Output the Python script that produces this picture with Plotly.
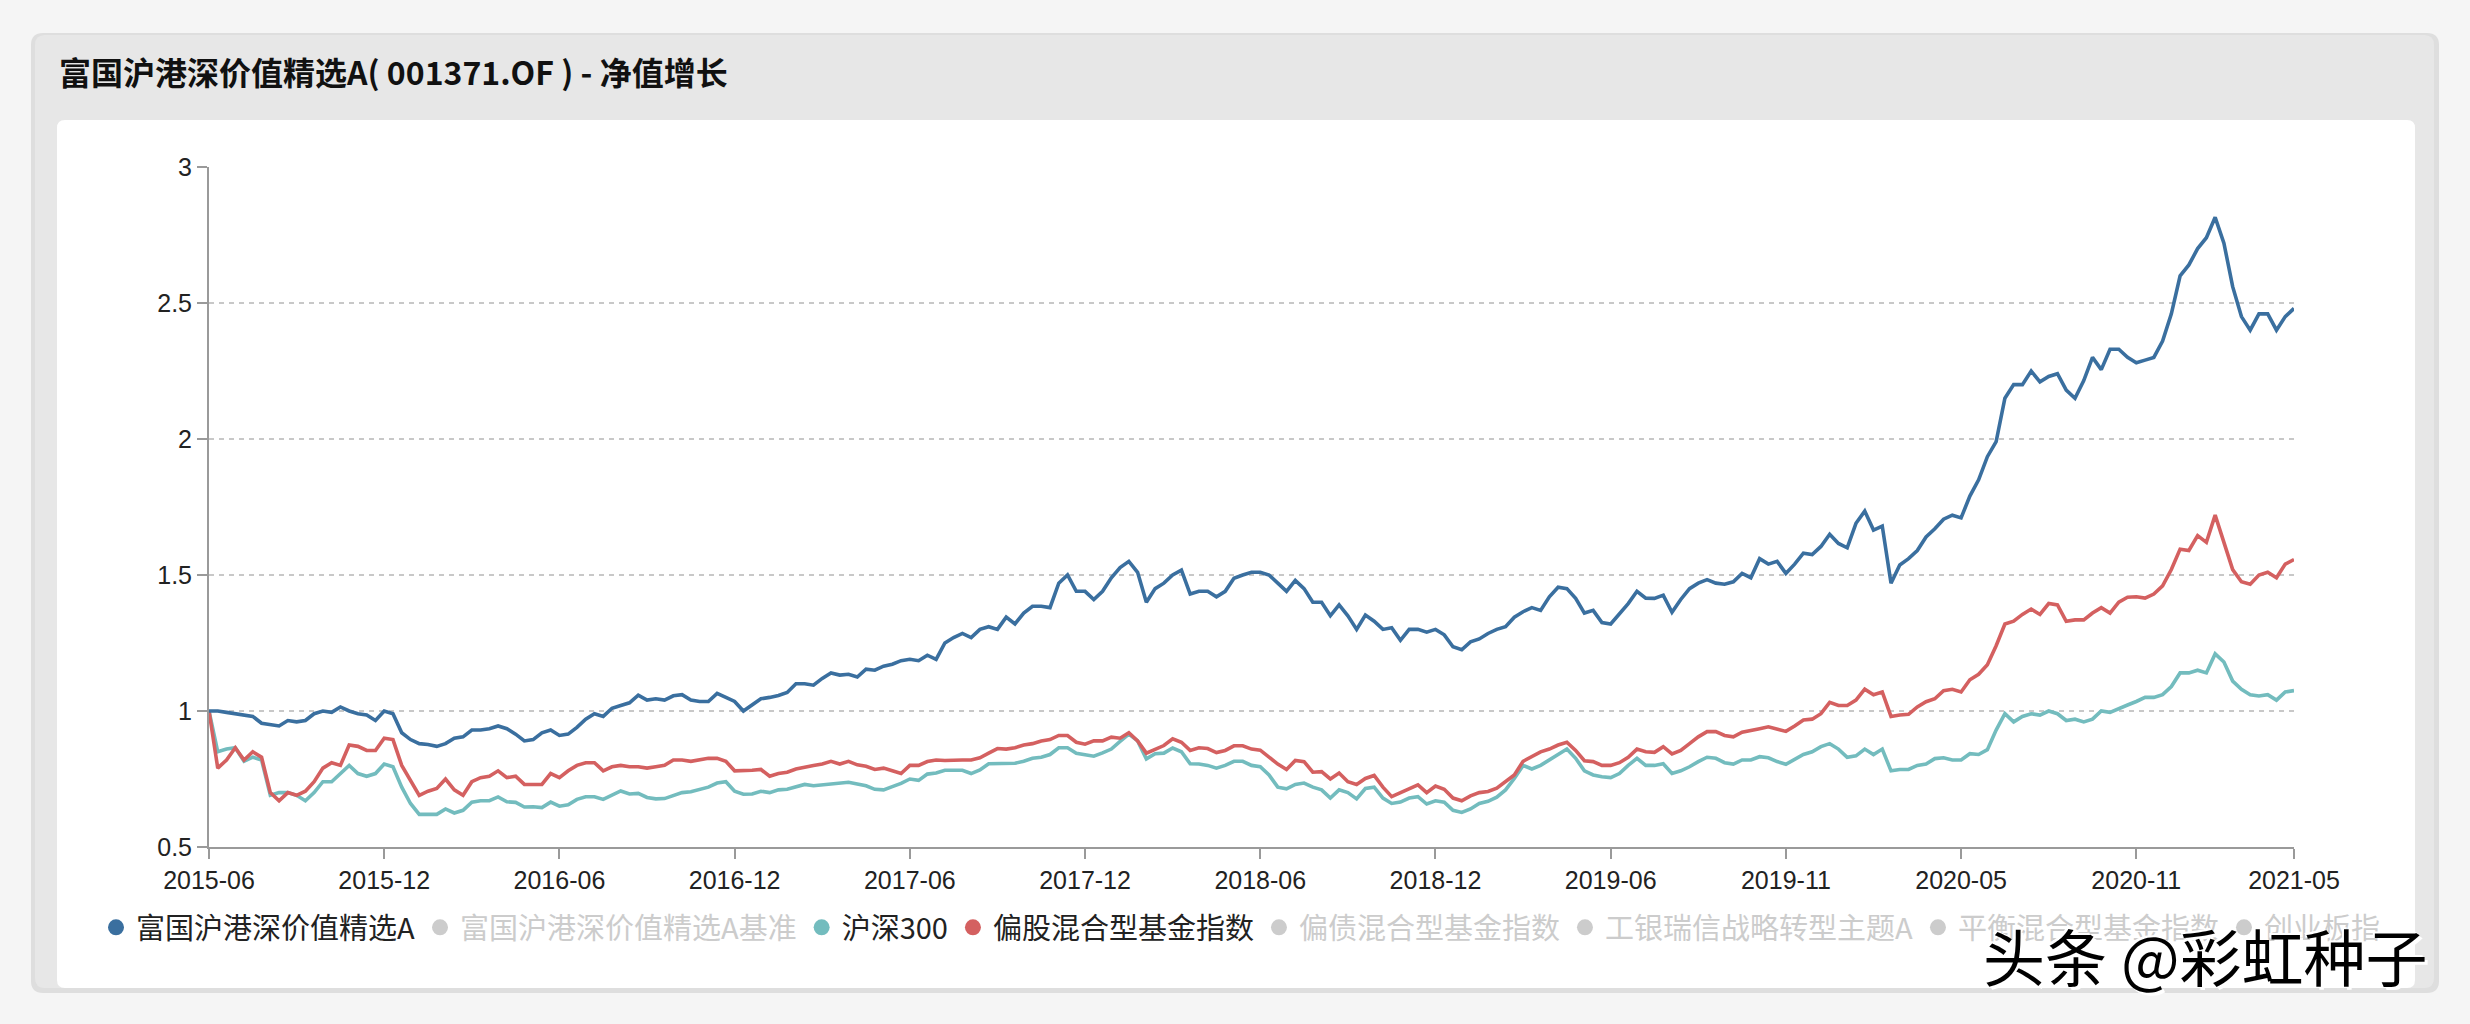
import plotly.graph_objects as go

# ---------------- data ----------------
tick_labels = ["2015-06", "2015-12", "2016-06", "2016-12", "2017-06", "2017-12", "2018-06",
               "2018-12", "2019-06", "2019-11", "2020-05", "2020-11", "2021-05"]
tick_index = [0, 20, 40, 60, 80, 100, 120, 140, 160, 180, 200, 220, 238]

fund = [
    1.00, 1.00, 0.995, 0.99, 0.983, 0.98, 0.955, 0.95, 0.945, 0.965,
    0.96, 0.965, 0.99, 1.0, 0.995, 1.015, 1.0, 0.99, 0.985, 0.965,
    1.0, 0.99, 0.92, 0.895, 0.88, 0.877, 0.87, 0.88, 0.90, 0.905,
    0.93, 0.93, 0.935, 0.945, 0.935, 0.915, 0.89, 0.895, 0.92, 0.93,
    0.91, 0.915, 0.94, 0.97, 0.99, 0.98, 1.01, 1.02, 1.03, 1.058,
    1.04,
    1.045, 1.04, 1.056, 1.06, 1.04, 1.035, 1.035, 1.065, 1.05, 1.035,
    1.00, 1.022, 1.045, 1.05, 1.057, 1.068, 1.10, 1.10, 1.095, 1.12,
    1.14, 1.132, 1.135, 1.125, 1.154, 1.15, 1.165, 1.172, 1.185, 1.19,
    1.185, 1.205, 1.19, 1.25, 1.27, 1.285, 1.27, 1.30, 1.31, 1.30,
    1.345, 1.32, 1.36, 1.385, 1.385, 1.38, 1.47, 1.50, 1.44, 1.44,
    1.41, 1.44, 1.49, 1.527, 1.55, 1.51, 1.40, 1.45, 1.47, 1.50,
    1.518, 1.43, 1.44, 1.44, 1.42, 1.44, 1.488, 1.50, 1.51, 1.51,
    1.50, 1.47, 1.44, 1.48, 1.45, 1.40, 1.40, 1.35, 1.39, 1.35,
    1.30, 1.353, 1.33, 1.30, 1.306, 1.26, 1.30, 1.30, 1.29, 1.30,
    1.28, 1.236, 1.225, 1.254, 1.265, 1.285, 1.30, 1.31,
    1.345, 1.365, 1.38, 1.37, 1.42, 1.455, 1.45, 1.414, 1.36, 1.37,
    1.325, 1.32, 1.358, 1.395, 1.44, 1.415, 1.414, 1.426, 1.363, 1.41,
    1.45, 1.47, 1.483, 1.47, 1.466, 1.475, 1.506, 1.49, 1.56, 1.54,
    1.55, 1.506, 1.54, 1.58, 1.575, 1.605, 1.65, 1.616, 1.60, 1.69,
    1.735, 1.665, 1.68, 1.47, 1.537, 1.56, 1.59, 1.64, 1.67,
    1.705, 1.72, 1.71, 1.79, 1.85, 1.935, 1.99, 2.15, 2.20, 2.20,
    2.25, 2.21, 2.23, 2.24, 2.18, 2.15, 2.215, 2.30, 2.255, 2.33,
    2.33, 2.30, 2.28, 2.29, 2.30, 2.36, 2.46, 2.60, 2.64, 2.70,
    2.74, 2.815, 2.72, 2.56, 2.45, 2.40, 2.46, 2.46, 2.40, 2.45,
    2.48,
]

equity_index = [
    1.00, 0.79, 0.82, 0.865, 0.82, 0.85, 0.83, 0.70, 0.67, 0.70,
    0.69, 0.705, 0.74, 0.79, 0.81, 0.80, 0.875, 0.87, 0.855, 0.855,
    0.90, 0.895, 0.80, 0.745, 0.69, 0.705, 0.715, 0.75, 0.71, 0.69,
    0.74, 0.755, 0.76, 0.78, 0.755, 0.76, 0.73, 0.73, 0.73, 0.77,
    0.755, 0.78, 0.80, 0.81, 0.81, 0.78, 0.795, 0.80, 0.795, 0.795,
    0.79,
    0.795, 0.80, 0.82, 0.82, 0.815, 0.82, 0.826, 0.826, 0.815, 0.78,
    0.78, 0.782, 0.785, 0.76, 0.77, 0.775, 0.787, 0.795, 0.80, 0.805,
    0.815, 0.805, 0.815, 0.802, 0.797, 0.785, 0.79, 0.78, 0.77, 0.80,
    0.80, 0.814, 0.82, 0.818, 0.82, 0.82, 0.82, 0.828, 0.845, 0.862,
    0.86, 0.865, 0.875, 0.88, 0.89, 0.895, 0.91, 0.91, 0.885, 0.878,
    0.89, 0.89, 0.904, 0.90, 0.92, 0.89, 0.845, 0.86, 0.873, 0.898,
    0.885, 0.855, 0.865, 0.862, 0.847, 0.855, 0.872, 0.872, 0.86, 0.856,
    0.83, 0.805, 0.785, 0.818, 0.814, 0.775, 0.777, 0.75, 0.772, 0.74,
    0.73, 0.752, 0.763, 0.72, 0.685, 0.70, 0.712, 0.728, 0.70, 0.724,
    0.712, 0.68, 0.67, 0.688, 0.70, 0.704, 0.716, 0.74,
    0.765, 0.815, 0.832, 0.85, 0.86, 0.875, 0.885, 0.855, 0.817, 0.814,
    0.80, 0.80, 0.81, 0.83, 0.86, 0.85, 0.848, 0.869, 0.842, 0.855,
    0.88, 0.905, 0.924, 0.924, 0.91, 0.905, 0.922, 0.93, 0.935, 0.942,
    0.935, 0.925, 0.945, 0.967, 0.97, 0.99, 1.032, 1.02, 1.02, 1.04,
    1.08, 1.06, 1.07, 0.98, 0.985, 0.988, 1.015, 1.034, 1.045,
    1.075, 1.08, 1.07, 1.115, 1.135, 1.17, 1.24, 1.32, 1.33, 1.355,
    1.375, 1.355, 1.395, 1.39, 1.33, 1.335, 1.335, 1.36, 1.38, 1.36,
    1.40, 1.418, 1.42, 1.415, 1.43, 1.46, 1.52, 1.595, 1.59, 1.645,
    1.62, 1.72, 1.62, 1.52, 1.475, 1.466, 1.50, 1.51, 1.49, 1.54,
    1.557,
]

hs300 = [
    1.00, 0.85, 0.86, 0.865, 0.815, 0.83, 0.82, 0.69, 0.70, 0.70,
    0.69, 0.67, 0.70, 0.74, 0.74, 0.77, 0.80, 0.77, 0.76, 0.77,
    0.805, 0.795, 0.72, 0.66, 0.62, 0.62, 0.62, 0.64, 0.625, 0.635,
    0.665, 0.67, 0.67, 0.684, 0.666, 0.664, 0.647, 0.648, 0.645, 0.665,
    0.65, 0.655, 0.675, 0.685, 0.685, 0.675, 0.69, 0.706, 0.695, 0.697,
    0.682,
    0.677, 0.678, 0.69, 0.70, 0.703, 0.71, 0.72, 0.735, 0.74, 0.705,
    0.694, 0.695, 0.705, 0.70, 0.71, 0.712, 0.72, 0.73, 0.725, 0.728,
    0.732, 0.735, 0.738, 0.732, 0.725, 0.712, 0.71, 0.722, 0.734, 0.75,
    0.745, 0.768, 0.772, 0.782, 0.783, 0.782, 0.77, 0.783, 0.806, 0.806,
    0.806, 0.808, 0.815, 0.826, 0.83, 0.84, 0.865, 0.865, 0.845, 0.84,
    0.834, 0.846, 0.86, 0.888, 0.915, 0.89, 0.824, 0.843, 0.845, 0.864,
    0.85, 0.806, 0.805, 0.80, 0.79, 0.80, 0.815, 0.815, 0.80, 0.795,
    0.765, 0.72, 0.714, 0.73, 0.735, 0.72, 0.71, 0.68, 0.71, 0.70,
    0.677, 0.715, 0.72, 0.68, 0.66, 0.665, 0.68, 0.685, 0.658, 0.67,
    0.665, 0.635, 0.627, 0.64, 0.66, 0.668, 0.683, 0.71,
    0.752, 0.80, 0.787, 0.80, 0.82, 0.842, 0.86, 0.826, 0.78, 0.765,
    0.758, 0.755, 0.77, 0.80, 0.826, 0.80, 0.80, 0.806, 0.77, 0.78,
    0.795, 0.814, 0.83, 0.826, 0.81, 0.805, 0.82, 0.82, 0.832, 0.828,
    0.814, 0.804, 0.822, 0.84, 0.85, 0.869, 0.88, 0.86, 0.83, 0.835,
    0.86, 0.84, 0.86, 0.78, 0.785, 0.785, 0.80, 0.805, 0.825,
    0.828, 0.82, 0.82, 0.843, 0.84, 0.858, 0.93, 0.99, 0.96, 0.98,
    0.99, 0.985, 1.0, 0.99, 0.965, 0.97, 0.96, 0.97, 1.0, 0.995,
    1.01, 1.022, 1.035, 1.05, 1.05, 1.06, 1.09, 1.14, 1.14, 1.15,
    1.14, 1.21, 1.18, 1.11, 1.08, 1.06, 1.055, 1.06, 1.04, 1.07,
    1.075,
]

legend_names = ["富国沪港深价值精选A", "富国沪港深价值精选A基准", "沪深300", "偏股混合型基金指数",
                "偏债混合型基金指数", "工银瑞信战略转型主题A", "平衡混合型基金指数", "创业板指"]
legend_active = [True, False, True, True, False, False, False, False]

y_ticks = [0.5, 1, 1.5, 2, 2.5, 3]
y_tick_text = ["0.5", "1", "1.5", "2", "2.5", "3"]

title_text = "富国沪港深价值精选A( 001371.OF ) - 净值增长"
watermark = "头条 @彩虹种子"

# ---------------- style ----------------
BLUE = "#3a6f9f"
TEAL = "#73bcbe"
RED = "#d46060"
GRAY = "#cccccc"
legend_colors = [BLUE, GRAY, TEAL, RED, GRAY, GRAY, GRAY, GRAY]

W, H = 2470, 1024
L, R, T, B = 209, 2294, 167, 847  # plot area in pixels
PW, PH = R - L, B - T


def px(x):
    return (x - L) / PW


def py(y):
    return (B - y) / PH


def rrect(x0, y0, x1, y1, r):
    rx, ry = r / PW, r / PH
    X0, X1 = px(x0), px(x1)
    Y0, Y1 = py(y0), py(y1)  # Y0 top, Y1 bottom (paper)
    return (f"M {X0+rx},{Y0} L {X1-rx},{Y0} Q {X1},{Y0} {X1},{Y0-ry} "
            f"L {X1},{Y1+ry} Q {X1},{Y1} {X1-rx},{Y1} L {X0+rx},{Y1} "
            f"Q {X0},{Y1} {X0},{Y1+ry} L {X0},{Y0-ry} Q {X0},{Y0} {X0+rx},{Y0} Z")


FONT = "Noto Sans CJK SC, Noto Sans, sans-serif"
TICKFONT = "Liberation Sans, Arial, sans-serif"

fig = go.Figure()

for name, data, color in [("沪深300", hs300, TEAL), ("偏股混合型基金指数", equity_index, RED),
                          ("富国沪港深价值精选A", fund, BLUE)]:
    fig.add_trace(go.Scatter(x=list(range(len(data))), y=data, mode="lines", name=name,
                             line=dict(color=color, width=3.6), showlegend=False,
                             hoverinfo="skip"))

for name, active, color in zip(legend_names, legend_active, legend_colors):
    label = name if active else f'<span style="color:{GRAY}">{name}</span>'
    fig.add_trace(go.Scatter(x=[None], y=[None], mode="markers", name=label,
                             marker=dict(color=color, size=16, symbol="circle"),
                             showlegend=True))

shapes = [
    # card shadow
    dict(type="path", path=rrect(31, 33, 2439, 993, 12), xref="paper", yref="paper",
         fillcolor="#dedede", line=dict(width=0), layer="below"),
    # card
    dict(type="path", path=rrect(35, 35, 2434, 988, 10), xref="paper", yref="paper",
         fillcolor="#e7e7e7", line=dict(width=0), layer="below"),
    # white panel
    dict(type="path", path=rrect(57, 120, 2415, 988, 8), xref="paper", yref="paper",
         fillcolor="#ffffff", line=dict(width=0), layer="below"),
]

annotations = [
    dict(text=title_text, xref="paper", yref="paper", x=px(57), y=py(71),
         xanchor="left", yanchor="middle", showarrow=False,
         font=dict(family=FONT, size=32, color="#111111", weight="bold")),
    dict(text=watermark, xref="paper", yref="paper", x=px(2205), y=py(955),
         xanchor="center", yanchor="middle", showarrow=False,
         font=dict(family=FONT, size=62, color="#000000",
                   shadow="3px 3px 0px #ffffff, -2px -2px 0px #ffffff")),
]

fig.update_layout(
    width=W, height=H,
    margin=dict(l=L, r=W - R, t=T, b=H - B, pad=0),
    paper_bgcolor="#f5f5f5",
    plot_bgcolor="rgba(0,0,0,0)",
    shapes=shapes,
    annotations=annotations,
    showlegend=True,
    legend=dict(orientation="h", x=px(96), y=py(902), xanchor="left", yanchor="top",
                font=dict(family=FONT, size=29, color="#222222"),
                bgcolor="rgba(0,0,0,0)", itemclick=False, itemdoubleclick=False,
                traceorder="normal"),
    xaxis=dict(range=[0, len(fund) - 1], tickmode="array", tickvals=tick_index,
               ticktext=tick_labels, showgrid=False, zeroline=False,
               showline=True, linecolor="#9a9a9a", linewidth=2,
               ticks="outside", ticklen=10, tickwidth=2, tickcolor="#9a9a9a",
               tickfont=dict(family=TICKFONT, size=25, color="#222222")),
    yaxis=dict(range=[0.5, 3], tickmode="array", tickvals=y_ticks, ticktext=y_tick_text,
               showgrid=True, gridcolor="#c8c8c8", gridwidth=1.5, griddash="5px,5px",
               zeroline=False, showline=True, linecolor="#9a9a9a", linewidth=2,
               ticks="outside", ticklen=10, tickwidth=2, tickcolor="#9a9a9a",
               tickfont=dict(family=TICKFONT, size=25, color="#222222")),
    hovermode=False,
)

fig.write_html("out.html", config={"displayModeBar": False},
               post_script="document.body.style.margin='0';document.body.style.overflow='hidden';")
